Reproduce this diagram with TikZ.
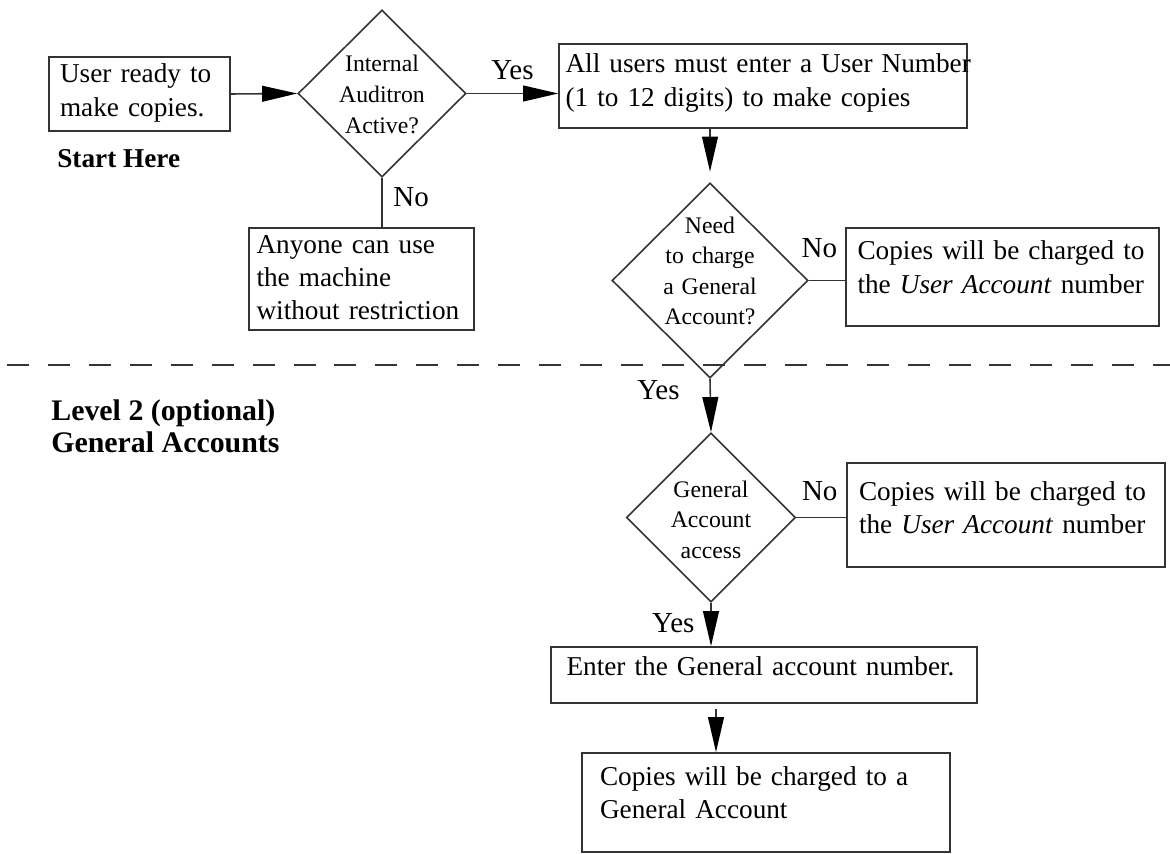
\documentclass[tikz,border=0pt]{standalone}
\usepackage{fontspec}
\setmainfont{Liberation Serif}
\usetikzlibrary{shapes.geometric,arrows.meta}
\definecolor{edge}{gray}{0.2}
\newcommand{\boxfont}{\fontsize{15.5}{18.8}\selectfont}
\newcommand{\askfont}{\fontsize{13.5}{17.4}\selectfont}
\newcommand{\tagfont}{\fontsize{16.5}{19}\selectfont}
\newcommand{\headfont}{\fontsize{17}{18.2}\selectfont\bfseries}
\tikzset{
  box/.style={draw=edge, line width=0.9pt, rectangle, align=left, inner xsep=0pt, inner ysep=0pt, font=\boxfont},
  ask/.style={draw=edge, line width=0.9pt, diamond, aspect=1, inner sep=0pt, align=center, text height=0pt, font=\askfont},
  tag/.style={inner sep=0pt, font=\tagfont},
  arr/.style={draw=edge, line width=0.9pt, -{Triangle[length=20pt,width=9pt,color=black]}},
  link/.style={draw=edge, line width=0.9pt}
}
\begin{document}
\begin{tikzpicture}[x=0.02cm,y=-0.02cm]
\useasboundingbox (0,0) rectangle (1170,854);
% level 1
\node[box, minimum width=3.62cm, text width=3.18cm, text height=0.52cm, text depth=0.96cm] (ready) at (139.5,94) {User ready to\\make copies.};
\node[font=\boxfont\bfseries, anchor=base west, inner sep=0pt] (start) at (57,168) {Start Here};
\node[ask, minimum width=3.36cm, minimum height=3.34cm, text width=1.8cm, text depth=0.86cm] (active) at (382,93.5) {Internal\\Auditron\\Active?};
\node[box, minimum width=4.5cm, text width=4.2cm, text height=0.5cm, text depth=1.54cm] (anyone) at (361.5,279) {Anyone can use\\the machine\\without restriction};
\node[box, minimum width=8.16cm, text width=7.9cm, text height=0.58cm, text depth=1.1cm] (usernum) at (763,86) {\mbox{All users must enter a User Number}\\(1 to 12 digits) to make copies};
\node[ask, minimum width=3.92cm, minimum height=3.9cm, text width=1.9cm, text depth=1.9cm] (need) at (710,280.5) {Need\\to charge\\a General\\Account?};
\node[box, minimum width=6.26cm, text width=5.8cm, text height=0.64cm, text depth=1.32cm] (charge1) at (1002.5,277) {Copies will be charged to\\the \textit{User Account} number};
% divider
\draw[edge, line width=0.9pt, dash pattern=on 12.5pt off 10.8pt] (7,365) -- (1170,365);
% level 2
\node[font=\headfont, align=left, anchor=north west, inner sep=0pt] (level) at (51,399) {Level 2 (optional)\\General Accounts};
\node[ask, minimum width=3.38cm, minimum height=3.38cm, text width=1.7cm, text depth=0.82cm] (gaccess) at (711,517.5) {General\\Account\\access};
\node[box, minimum width=6.36cm, text width=5.88cm, text height=0.74cm, text depth=1.34cm] (charge2) at (1006,515) {Copies will be charged to\\the \textit{User Account} number};
\node[box, minimum width=8.52cm, text width=7.9cm, text height=0.56cm, text depth=0.56cm] (enternum) at (764,675) {Enter the General account number.};
\node[box, minimum width=7.36cm, text width=6.64cm, text height=0.64cm, text depth=1.34cm] (general) at (766,802.5) {Copies will be charged to a\\General Account};
% connectors
\draw[arr] (ready.east) -- (active.west);
\draw[arr] (active.east) -- node[tag, midway, above=7.4pt] (yes1) {Yes} (active.east -| usernum.west);
\draw[link] (active.south) -- node[tag, pos=0.4, right=6pt] (no1) {No} (active.south |- anyone.north);
\draw[arr, shorten >=6pt] (usernum.south -| need.north) -- (need.north);
\draw[link] (need.east) -- node[tag, pos=0.29, above=12.5pt] (no2) {No} (need.east -| charge1.west);
\draw[arr] (need.south) -- node[tag, pos=0.21, left=17pt] (yes2) {Yes} (gaccess.north);
\draw[link] (gaccess.east) -- node[tag, pos=0.47, above=9pt] (no3) {No} (gaccess.east -| charge2.west);
\draw[arr] (gaccess.south) -- node[tag, pos=0.48, left=9pt] (yes3) {Yes} (gaccess.south |- enternum.north);
\draw[arr, shorten <=3pt] ([xshift=0.1cm]enternum.south -| gaccess.south) -- ([xshift=0.1cm]general.north -| gaccess.south);
\end{tikzpicture}
\end{document}
